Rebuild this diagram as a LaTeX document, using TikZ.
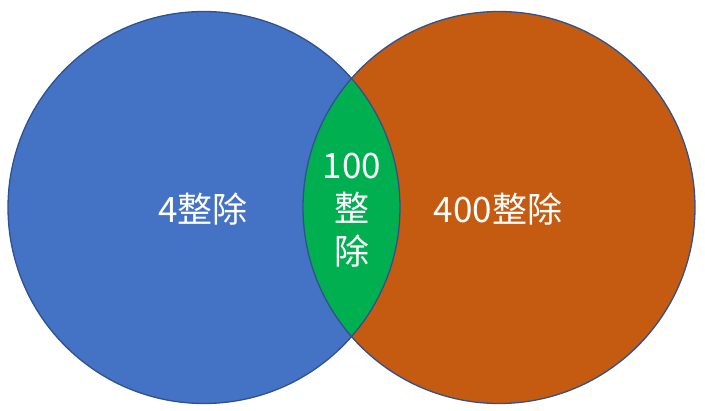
\documentclass[tikz,border=0pt]{standalone}
\usepackage{fontspec}
\newfontfamily\cjk{Noto Sans CJK SC}
\definecolor{cblue}{HTML}{4472C4}
\definecolor{corange}{HTML}{C55A11}
\definecolor{cgreen}{HTML}{00B050}
\definecolor{cedge}{HTML}{2F528F}
\begin{document}
\begin{tikzpicture}[x=1pt,y=-1pt,
  lbl/.style={text=white,font=\cjk\fontsize{35}{43}\selectfont,align=center,inner sep=0pt},
  edge/.style={draw=cedge,line width=1.3pt}]
\useasboundingbox (0,0) rectangle (705,411);
\fill[cblue] (204,207.5) circle (196);
\fill[corange] (499,207.5) circle (196);
\begin{scope}
  \clip (204,207.5) circle (196);
  \fill[cgreen] (499,207.5) circle (196);
\end{scope}
\node[edge,circle,minimum size=392pt,inner sep=0pt] (L) at (204,207.5) {};
\node[edge,circle,minimum size=392pt,inner sep=0pt] (R) at (499,207.5) {};
\node[lbl] (a) at (203,209) {4整除};
\node[lbl] (b) at (498,209) {400整除};
\node[lbl] (c) at (352,210) {100\\整\\除};
\end{tikzpicture}
\end{document}
